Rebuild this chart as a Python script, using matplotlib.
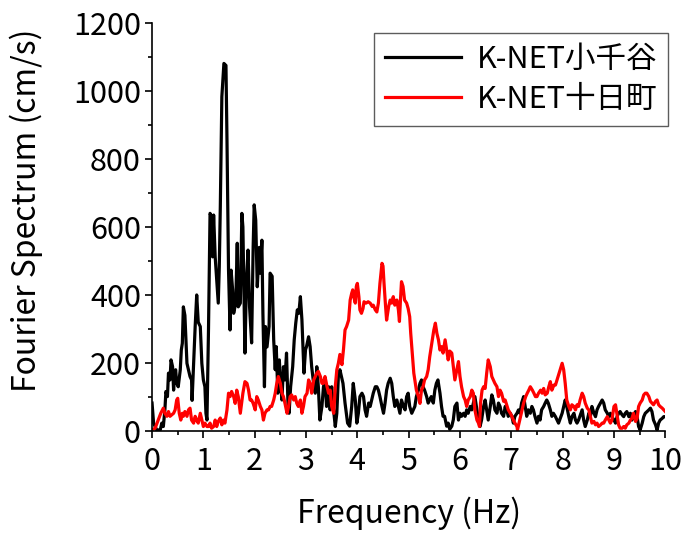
import matplotlib
matplotlib.use("Agg")
import matplotlib.pyplot as plt
from matplotlib.ticker import MultipleLocator

plt.rcParams['font.family'] = ['Noto Sans CJK JP', 'DejaVu Sans']

# K-NET Ojiya (black)
freq_ojiya = [
    0.00, 0.03, 0.09, 0.16, 0.19, 0.22, 0.25, 0.27, 0.30, 0.32, 0.35, 0.37, 0.40, 0.42, 0.44,
    0.46, 0.48, 0.51, 0.55, 0.57, 0.59, 0.61, 0.64, 0.68, 0.71, 0.74, 0.77, 0.78, 0.81, 0.84,
    0.87, 0.90, 0.94, 0.97, 1.00, 1.03, 1.05, 1.07, 1.10, 1.13, 1.16, 1.18, 1.20, 1.23, 1.26,
    1.29, 1.31, 1.33, 1.36, 1.40, 1.44, 1.46, 1.49, 1.52, 1.54, 1.57, 1.59, 1.63, 1.64, 1.66,
    1.68, 1.72, 1.75, 1.77, 1.81, 1.84, 1.87, 1.90, 1.94, 1.97, 1.99, 2.02, 2.05, 2.09, 2.11,
    2.14, 2.16, 2.19, 2.21, 2.24, 2.28, 2.30, 2.34, 2.37, 2.40, 2.42, 2.45, 2.48, 2.50, 2.53,
    2.56, 2.59, 2.62, 2.65, 2.67, 2.70, 2.74, 2.77, 2.80, 2.83, 2.86, 2.89, 2.92, 2.96, 2.99,
    3.01, 3.05, 3.08, 3.11, 3.14, 3.18, 3.21, 3.24, 3.27, 3.31, 3.34, 3.37, 3.40, 3.44, 3.47,
    3.50, 3.53, 3.57, 3.60, 3.63, 3.66, 3.72, 3.76, 3.81, 3.85, 3.89, 3.92, 3.96, 3.99, 4.02,
    4.05, 4.09, 4.12, 4.15, 4.18, 4.22, 4.25, 4.28, 4.31, 4.35, 4.38, 4.41, 4.44, 4.48, 4.51,
    4.54, 4.57, 4.60, 4.64, 4.67, 4.70, 4.73, 4.77, 4.80, 4.83, 4.86, 4.90, 4.93, 4.96, 4.99,
    5.02, 5.06, 5.09, 5.12, 5.15, 5.19, 5.22, 5.25, 5.28, 5.31, 5.35, 5.38, 5.41, 5.44, 5.48,
    5.51, 5.54, 5.57, 5.61, 5.64, 5.67, 5.70, 5.74, 5.77, 5.80, 5.84, 5.87, 5.90, 5.94, 5.97,
    6.00, 6.03, 6.07, 6.10, 6.13, 6.16, 6.20, 6.23, 6.26, 6.29, 6.33, 6.36, 6.39, 6.42, 6.46,
    6.49, 6.52, 6.55, 6.59, 6.62, 6.65, 6.68, 6.72, 6.75, 6.78, 6.81, 6.85, 6.88, 6.91, 6.94,
    6.98, 7.01, 7.04, 7.07, 7.11, 7.14, 7.17, 7.20, 7.24, 7.27, 7.30, 7.33, 7.37, 7.40, 7.43,
    7.46, 7.50, 7.53, 7.56, 7.59, 7.63, 7.66, 7.69, 7.72, 7.76, 7.79, 7.82, 7.86, 7.92, 7.99,
    8.05, 8.08, 8.12, 8.15, 8.18, 8.22, 8.25, 8.28, 8.31, 8.38, 8.41, 8.44, 8.48, 8.51, 8.54,
    8.57, 8.61, 8.64, 8.67, 8.70, 8.77, 8.80, 8.83, 8.87, 8.90, 8.93, 8.96, 9.00, 9.03, 9.06,
    9.09, 9.12, 9.16, 9.19, 9.22, 9.25, 9.29, 9.32, 9.35, 9.38, 9.42, 9.45, 9.48, 9.51, 9.55,
    9.58, 9.61, 9.68, 9.71, 9.74, 9.77, 9.81, 9.84, 9.87, 9.90, 9.94, 9.97, 10.00,
]
amp_ojiya = [
    82, 23, 3, 3, 23, 13, 62, 116, 101, 170, 150, 209, 189, 120, 170,
    180, 140, 130, 180, 238, 258, 365, 340, 199, 180, 160, 150, 90, 199, 307,
    400, 320, 307, 199, 150, 130, 52, 32, 300, 640, 630, 512, 635, 512, 444,
    376, 483, 660, 983, 1081, 1075, 856, 473, 297, 473, 415, 346, 376, 435, 552,
    365, 376, 640, 600, 229, 444, 532, 365, 259, 542, 665, 620, 424, 540, 464,
    561, 346, 130, 307, 247, 307, 464, 455, 268, 180, 248, 111, 209, 150, 91,
    189, 150, 229, 72, 52, 130, 189, 268, 317, 356, 346, 395, 327, 170, 239,
    248, 277, 248, 189, 150, 111, 189, 130, 32, 72, 130, 150, 72, 130, 62,
    130, 72, 13, 52, 160, 180, 140, 82, 23, 14, 72, 140, 91, 23, 52,
    101, 111, 101, 62, 43, 82, 72, 91, 111, 130, 130, 120, 101, 72, 52,
    82, 120, 140, 155, 140, 101, 72, 91, 72, 52, 91, 72, 62, 101, 111,
    72, 52, 62, 72, 101, 120, 140, 150, 130, 120, 101, 82, 91, 101, 82,
    120, 140, 150, 111, 72, 43, 43, 14, 23, 5, 14, 33, 72, 82, 32,
    52, 43, 52, 43, 62, 52, 72, 62, 82, 101, 62, 32, 13, 32, 72,
    91, 62, 32, 72, 106, 91, 62, 52, 82, 72, 52, 43, 72, 62, 43,
    52, 43, 23, 43, 52, 62, 52, 82, 101, 72, 43, 62, 52, 72, 62,
    43, 23, 43, 32, 62, 72, 82, 91, 82, 62, 43, 52, 42, 23, 52,
    91, 72, 42, 23, 42, 52, 32, 23, 32, 62, 32, 13, 32, 52, 42,
    72, 52, 42, 62, 72, 91, 82, 62, 52, 42, 52, 42, 32, 23, 42,
    52, 57, 47, 42, 52, 57, 42, 52, 32, 42, 57, 42, 13, 3, 23,
    42, 52, 62, 67, 57, 32, 18, 3, 23, 32, 37, 42, 42,
]

# K-NET Tokamachi (red)
freq_tokamachi = [
    0.00, 0.06, 0.12, 0.17, 0.22, 0.25, 0.29, 0.32, 0.35, 0.38, 0.42, 0.45, 0.48, 0.50, 0.53,
    0.56, 0.59, 0.61, 0.64, 0.68, 0.71, 0.74, 0.77, 0.81, 0.84, 0.87, 0.90, 0.94, 0.97, 1.00,
    1.03, 1.07, 1.10, 1.13, 1.16, 1.20, 1.23, 1.26, 1.29, 1.33, 1.36, 1.39, 1.42, 1.46, 1.49,
    1.52, 1.55, 1.59, 1.62, 1.65, 1.68, 1.72, 1.77, 1.81, 1.85, 1.88, 1.91, 1.94, 1.97, 2.01,
    2.04, 2.07, 2.11, 2.14, 2.17, 2.20, 2.24, 2.27, 2.30, 2.33, 2.37, 2.40, 2.43, 2.46, 2.50,
    2.53, 2.56, 2.59, 2.63, 2.66, 2.69, 2.72, 2.76, 2.79, 2.82, 2.85, 2.89, 2.92, 2.95, 2.98,
    3.02, 3.05, 3.08, 3.11, 3.15, 3.18, 3.21, 3.24, 3.28, 3.31, 3.34, 3.37, 3.41, 3.44, 3.47,
    3.50, 3.54, 3.57, 3.60, 3.63, 3.66, 3.70, 3.73, 3.76, 3.79, 3.83, 3.86, 3.89, 3.91, 3.93,
    3.96, 3.98, 4.00, 4.03, 4.05, 4.08, 4.11, 4.13, 4.17, 4.21, 4.25, 4.29, 4.31, 4.35, 4.38,
    4.41, 4.44, 4.48, 4.50, 4.52, 4.55, 4.57, 4.61, 4.64, 4.67, 4.70, 4.73, 4.77, 4.80, 4.82,
    4.84, 4.86, 4.89, 4.92, 4.96, 4.99, 5.02, 5.04, 5.07, 5.10, 5.12, 5.15, 5.19, 5.22, 5.25,
    5.28, 5.31, 5.35, 5.38, 5.41, 5.44, 5.47, 5.49, 5.52, 5.55, 5.58, 5.61, 5.64, 5.67, 5.71,
    5.74, 5.77, 5.80, 5.84, 5.87, 5.90, 5.94, 5.97, 6.00, 6.03, 6.07, 6.10, 6.13, 6.16, 6.20,
    6.23, 6.26, 6.29, 6.33, 6.36, 6.38, 6.40, 6.43, 6.46, 6.49, 6.52, 6.55, 6.59, 6.62, 6.65,
    6.68, 6.72, 6.75, 6.78, 6.81, 6.85, 6.88, 6.91, 6.94, 6.98, 7.01, 7.04, 7.07, 7.11, 7.12,
    7.15, 7.18, 7.21, 7.24, 7.28, 7.31, 7.34, 7.37, 7.41, 7.44, 7.47, 7.50, 7.53, 7.57, 7.60,
    7.63, 7.66, 7.70, 7.73, 7.76, 7.79, 7.83, 7.86, 7.89, 7.92, 7.95, 7.99, 8.02, 8.05, 8.08,
    8.12, 8.15, 8.18, 8.22, 8.25, 8.28, 8.31, 8.34, 8.38, 8.41, 8.44, 8.48, 8.51, 8.54, 8.57,
    8.61, 8.64, 8.67, 8.70, 8.74, 8.77, 8.80, 8.83, 8.87, 8.90, 8.93, 8.96, 9.00, 9.03, 9.06,
    9.09, 9.12, 9.16, 9.19, 9.22, 9.25, 9.29, 9.32, 9.35, 9.38, 9.42, 9.45, 9.48, 9.51, 9.55,
    9.58, 9.61, 9.64, 9.68, 9.71, 9.74, 9.77, 9.81, 9.84, 9.87, 9.90, 9.94, 10.00,
]
amp_tokamachi = [
    3, 8, 32, 52, 67, 52, 43, 57, 43, 47, 52, 62, 91, 96, 52,
    32, 52, 43, 57, 43, 62, 67, 32, 23, 43, 32, 23, 52, 32, 13,
    23, 13, 13, 23, 8, 13, 32, 13, 28, 38, 18, 32, 23, 62, 111,
    101, 116, 101, 81, 120, 101, 52, 111, 145, 140, 120, 91, 91, 81, 62,
    101, 91, 72, 62, 32, 52, 62, 62, 72, 72, 91, 111, 140, 160, 140,
    111, 101, 81, 52, 72, 101, 106, 91, 101, 81, 72, 91, 52, 72, 101,
    111, 150, 140, 111, 150, 160, 170, 175, 160, 140, 140, 160, 130, 111, 120,
    72, 52, 130, 180, 199, 225, 195, 240, 297, 307, 326, 385, 405, 415, 395,
    376, 425, 434, 395, 356, 346, 360, 380, 376, 380, 376, 366, 370, 356, 350,
    376, 434, 493, 485, 434, 366, 326, 366, 385, 376, 395, 370, 385, 356, 322,
    385, 439, 425, 385, 376, 360, 336, 287, 229, 170, 150, 120, 101, 81, 120,
    130, 150, 160, 180, 218, 248, 277, 297, 317, 287, 268, 238, 248, 229, 268,
    238, 209, 235, 229, 189, 150, 180, 204, 160, 130, 101, 91, 72, 91, 101,
    120, 111, 62, 32, 23, 13, 82, 120, 130, 125, 170, 209, 189, 160, 150,
    140, 130, 101, 120, 111, 87, 91, 77, 62, 52, 43, 32, 23, 13, 3,
    23, 43, 62, 82, 101, 111, 120, 130, 120, 111, 101, 101, 111, 120, 111,
    125, 106, 111, 130, 145, 120, 135, 135, 150, 165, 180, 199, 180, 140, 91,
    72, 62, 77, 72, 62, 77, 72, 91, 111, 101, 82, 67, 62, 42, 23,
    28, 18, 23, 13, 18, 23, 23, 32, 42, 32, 23, 32, 72, 77, 47,
    18, 8, 8, 13, 8, 18, 23, 32, 37, 52, 28, 37, 72, 82, 91,
    106, 111, 111, 101, 87, 82, 77, 87, 91, 77, 72, 67, 57,
]

fig = plt.figure(figsize=(6.88, 5.34), dpi=100)
ax = fig.add_axes([0.221, 0.193, 0.746, 0.764])

ax.plot(freq_ojiya, amp_ojiya, color="black", lw=2.3, label="K-NET小千谷")
ax.plot(freq_tokamachi, amp_tokamachi, color="red", lw=2.3, label="K-NET十日町")

ax.set_xlim(0, 10)
ax.set_ylim(0, 1200)
ax.xaxis.set_major_locator(MultipleLocator(1))
ax.xaxis.set_minor_locator(MultipleLocator(0.5))
ax.yaxis.set_major_locator(MultipleLocator(200))
ax.yaxis.set_minor_locator(MultipleLocator(100))
ax.tick_params(which="both", direction="out", labelsize=22, width=1.2, top=False, right=False)
ax.tick_params(which="major", length=5)
ax.tick_params(which="minor", length=3)
ax.tick_params(axis="x", which="major", pad=6)
ax.tick_params(axis="y", which="major", pad=3)
ax.spines["top"].set_visible(False)
ax.spines["right"].set_visible(False)
for side in ("left", "bottom"):
    ax.spines[side].set_linewidth(1.2)

ax.set_xlabel("Frequency (Hz)", fontsize=23, labelpad=14)
ax.set_ylabel("Fourier Spectrum (cm/s)", fontsize=23)
ax.yaxis.set_label_coords(-0.213, 0.54)

leg = ax.legend(loc="upper right", bbox_to_anchor=(1.005, 0.975), fontsize=22,
                frameon=True, fancybox=False, handlelength=2.5, handletextpad=0.5,
                borderpad=0.35, labelspacing=0.3, borderaxespad=0)
leg.get_frame().set_edgecolor("#333333")
leg.get_frame().set_linewidth(1.0)

fig.savefig("out.png", dpi=100)
